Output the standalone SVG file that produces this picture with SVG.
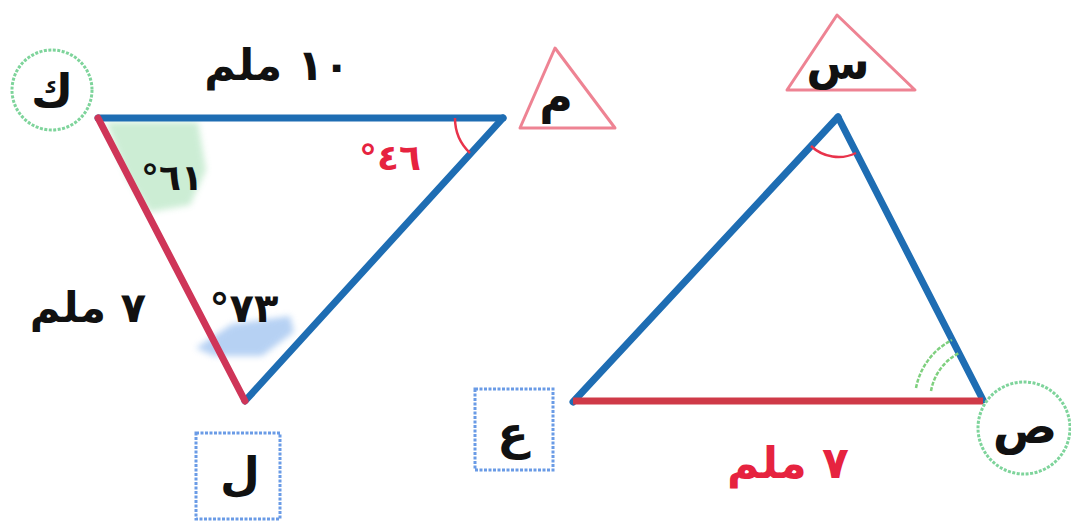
<svg xmlns="http://www.w3.org/2000/svg" width="1071" height="532" viewBox="0 0 1071 532">
<style>
.bg{fill:#ffffff}
.blue{stroke:#1e6db3;stroke-width:7;stroke-linecap:round;fill:none}
.red1{stroke:#cf3558;stroke-width:7;stroke-linecap:round;fill:none}
.red2{stroke:#cf3a48;stroke-width:7;stroke-linecap:butt;fill:none}
.lbl{font-family:"DejaVu Sans","Noto Sans",sans-serif;font-weight:bold;fill:#111111}
.vtx{font-family:"DejaVu Sans","Noto Sans",sans-serif;font-weight:bold;fill:#111111}
.redtxt{fill:#e6233f}
.circ{fill:none;stroke:#7ed49b;stroke-width:3;stroke-dasharray:3 1.5}
.box{fill:none;stroke:#6a9be6;stroke-width:3;stroke-dasharray:3 1.5}
.tri{fill:none;stroke:#ee8393;stroke-width:3;stroke-linejoin:round}
.arcr{fill:none;stroke:#e8334b;stroke-width:2.5}
.arcg{fill:none;stroke:#7fd07f;stroke-width:2.5;stroke-dasharray:4 1.5}
</style>
<defs>
  <filter id="soft" x="-20%" y="-20%" width="140%" height="140%">
    <feGaussianBlur stdDeviation="3"/>
  </filter>
</defs>
<rect class="bg" x="0" y="0" width="1071" height="532"/>

<!-- shading -->
<polygon points="106,122 198,122 206,170 190,205 150,212 128,180" fill="#8fd8a2" opacity="0.45" filter="url(#soft)"/>
<polygon points="196,348 232,324 290,316 294,332 262,356 214,356" fill="#86b3ec" opacity="0.6" filter="url(#soft)"/>

<g id="connectors">
  <line class="blue" x1="98" y1="118" x2="503" y2="118"/>
  <line class="blue" x1="503" y1="118" x2="245" y2="401"/>
  <line class="red1" x1="98" y1="118" x2="245" y2="401"/>
  <line class="blue" x1="838" y1="117" x2="573" y2="402"/>
  <line class="blue" x1="838" y1="117" x2="983" y2="400"/>
  <line class="red2" x1="573" y1="401" x2="983" y2="401"/>
  <path class="arcr" d="M455,118 A48,48 0 0 0 470,153"/>
  <path class="arcr" d="M811,146 A40,40 0 0 0 856,153"/>
  <path class="arcg" d="M916,388 A68,68 0 0 1 952,340"/>
  <path class="arcg" d="M931,391 A53,53 0 0 1 959,353"/>
</g>

<!-- side / angle labels -->
<text class="lbl" x="277" y="80" font-size="43" text-anchor="middle" direction="rtl">١٠ ملم</text>
<text class="lbl" x="88" y="322" font-size="42" text-anchor="middle" direction="rtl">٧ ملم</text>
<text class="lbl redtxt" x="788" y="478" font-size="44" text-anchor="middle" direction="rtl">٧ ملم</text>
<text class="lbl" x="172" y="190" font-size="36" text-anchor="middle" direction="rtl" fill="#1f3a22">٦١°</text>
<text class="lbl redtxt" x="390" y="170" font-size="36" text-anchor="middle" direction="rtl">٤٦°</text>
<text class="lbl" x="244" y="322" font-size="40" text-anchor="middle" direction="rtl">٧٣°</text>

<g id="node-k">
  <circle class="circ" cx="52" cy="90" r="40"/>
  <text class="vtx" x="52" y="107" font-size="46" text-anchor="middle">ك</text>
</g>
<g id="node-m">
  <polygon class="tri" points="520,128 555,48 615,128"/>
  <text class="vtx" x="556" y="113" font-size="46" text-anchor="middle">م</text>
</g>
<g id="node-l">
  <rect class="box" x="196" y="433" width="84" height="86"/>
  <text class="vtx" x="240" y="490" font-size="46" text-anchor="middle">ل</text>
</g>
<g id="node-s">
  <polygon class="tri" points="787,90 837,15 915,90"/>
  <text class="vtx" x="838" y="79" font-size="46" text-anchor="middle">س</text>
</g>
<g id="node-a">
  <rect class="box" x="475" y="389" width="78" height="81"/>
  <text class="vtx" x="513" y="449" font-size="46" text-anchor="middle">ع</text>
</g>
<g id="node-sad">
  <circle class="circ" cx="1024" cy="428" r="46"/>
  <text class="vtx" x="1025" y="443" font-size="48" text-anchor="middle">ص</text>
</g>
</svg>
